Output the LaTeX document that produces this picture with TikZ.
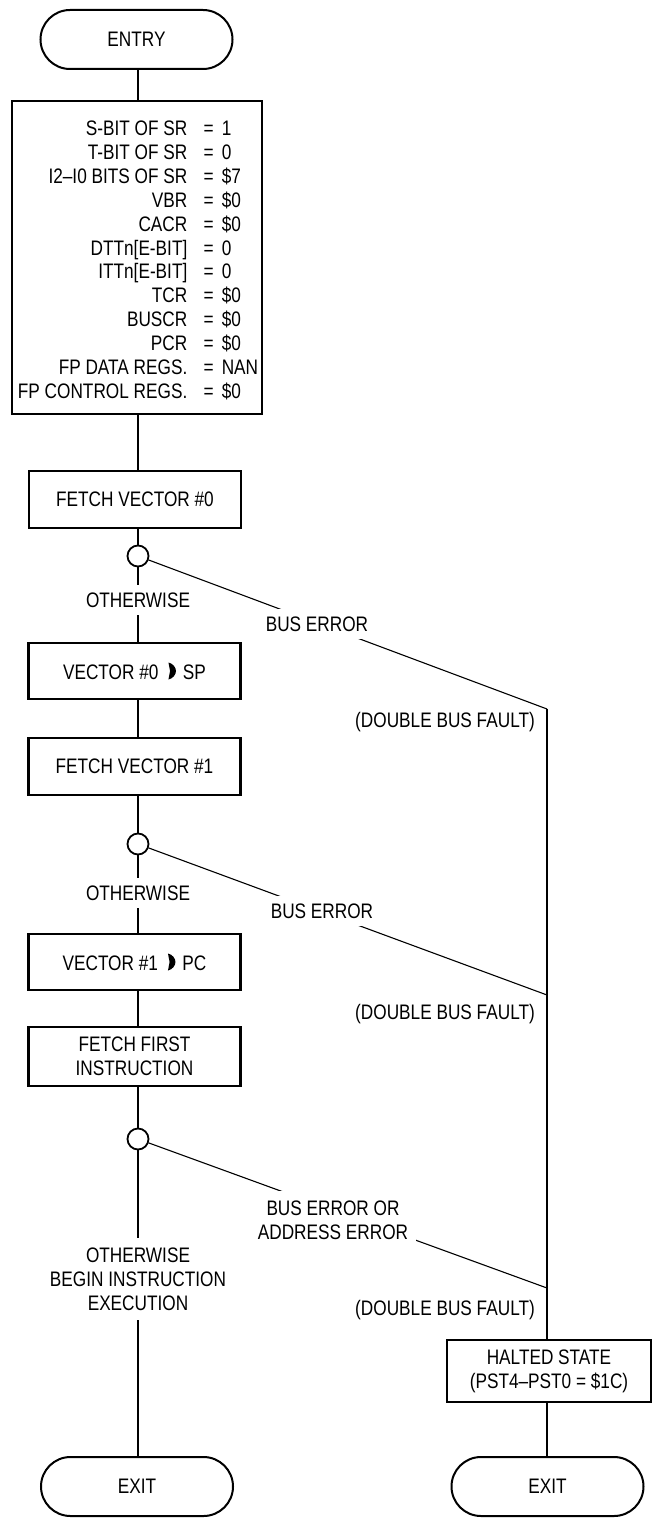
\documentclass[tikz,border=0pt]{standalone}
\usepackage{fontspec}
\setmainfont{Liberation Sans}[FakeStretch=0.82]
\newcommand{\vecarrow}{\tikz[baseline=0pt,x=1pt,y=1pt]\fill (0,16.5) .. controls (4.5,15.5) and (7.5,11.5) .. (7.5,8) .. controls (7.5,4.5) and (4.5,0.5) .. (0,-0.5) -- (1.6,8) -- cycle;}
\begin{document}
\begin{tikzpicture}[x=1pt,y=-1pt,
  every node/.style={font=\fontsize{21}{24}\selectfont, inner sep=0pt},
  proc/.style={draw, line width=2.2pt, align=center, minimum width=212pt, minimum height=56pt},
  term/.style={draw, line width=2pt, rounded corners=29.5pt, minimum width=192pt, minimum height=59pt},
  dec/.style={draw, circle, line width=1.8pt, minimum size=21pt},
  conn/.style={line width=1.1pt},
  lab/.style={fill=white, align=center, inner xsep=8pt, inner ysep=8pt},
  note/.style={anchor=base east}]
\useasboundingbox (0,0) rectangle (653,1522);

% boxes
\node[term] (entry) at (136.5,39.5) {ENTRY};
\node[draw, line width=2.3pt, minimum width=250pt, minimum height=313pt] (reg) at (136.75,257.5) {};
\node[proc, minimum height=57pt] (fv0) at (135,499.5) {FETCH VECTOR \#0};
\node[dec] (c0) at (138,556) {};
\node[proc] (vsp) at (134.5,671) {VECTOR \#0\hspace{10pt}\vecarrow\hspace{7pt}SP};
\node[proc, minimum height=57pt] (fv1) at (134.5,766.5) {FETCH VECTOR \#1};
\node[dec] (c1) at (138,844) {};
\node[proc] (vpc) at (134.5,962) {VECTOR \#1\hspace{10pt}\vecarrow\hspace{7pt}PC};
\node[proc, minimum height=59pt] (ffi) at (134.5,1056.5) {FETCH FIRST\\INSTRUCTION};
\node[dec] (c2) at (138,1139) {};
\node[proc, minimum width=204pt, minimum height=62pt] (halt) at (549,1371) {HALTED STATE\\(PST4–PST0 = \$1C)};
\node[term] (exit1) at (137,1486.5) {EXIT};
\node[term] (exit2) at (547.5,1486.5) {EXIT};
\coordinate (j0) at (547,709);
\coordinate (j1) at (547,995);
\coordinate (j2) at (547,1288);

% register settings
\foreach \l/\v [count=\i from 0] in {S-BIT OF SR/1, T-BIT OF SR/0, I2–I0 BITS OF SR/\$7, VBR/\$0, CACR/\$0, DTTn[E-BIT]/0, ITTn[E-BIT]/0, TCR/\$0, BUSCR/\$0, PCR/\$0, FP DATA REGS./NAN, FP CONTROL REGS./\$0}{
  \node[anchor=base east] (rl\i) at (187.5,{135.5+23.9*\i}) {\l};
  \node[anchor=base west] (rv\i) at (203.5,{135.5+23.9*\i}) {=\hspace{8pt}\v};
}

% connectors
\draw[conn] (c0 |- entry.south) -- (c0 |- reg.north);
\draw[conn] (c0 |- reg.south) -- (c0 |- fv0.north);
\draw[conn] (c0 |- fv0.south) -- (c0);
\draw[conn] (c0) -- (c0 |- vsp.north);
\draw[conn] (c0) -- (j0);
\draw[conn] (c0 |- vsp.south) -- (c0 |- fv1.north);
\draw[conn] (c1 |- fv1.south) -- (c1);
\draw[conn] (c1) -- (c1 |- vpc.north);
\draw[conn] (c1) -- (j1);
\draw[conn] (c1 |- vpc.south) -- (c1 |- ffi.north);
\draw[conn] (c2 |- ffi.south) -- (c2);
\draw[conn] (c2) -- (c2 |- exit1.north);
\draw[conn] (c2) -- (j2);
\draw[conn] (j0) -- (j0 |- halt.north);
\draw[conn] (j0 |- halt.south) -- (j0 |- exit2.north);

% labels
\node[lab] (ow0) at (138,600) {OTHERWISE};
\node[lab] (be0) at (317,624) {BUS ERROR};
\node[lab] (ow1) at (138,893) {OTHERWISE};
\node[lab] (be1) at (322,911) {BUS ERROR};
\node[lab, inner ysep=10pt] (be2) at (333,1220.5) {BUS ERROR OR\\ADDRESS ERROR};
\node[lab, inner ysep=10pt] (ow2) at (138,1279) {OTHERWISE\\BEGIN INSTRUCTION\\EXECUTION};
\node[note] (dbf0) at (535,727.5) {(DOUBLE BUS FAULT)};
\node[note] (dbf1) at (535,1019.5) {(DOUBLE BUS FAULT)};
\node[note] (dbf2) at (535,1315.5) {(DOUBLE BUS FAULT)};
\end{tikzpicture}
\end{document}
